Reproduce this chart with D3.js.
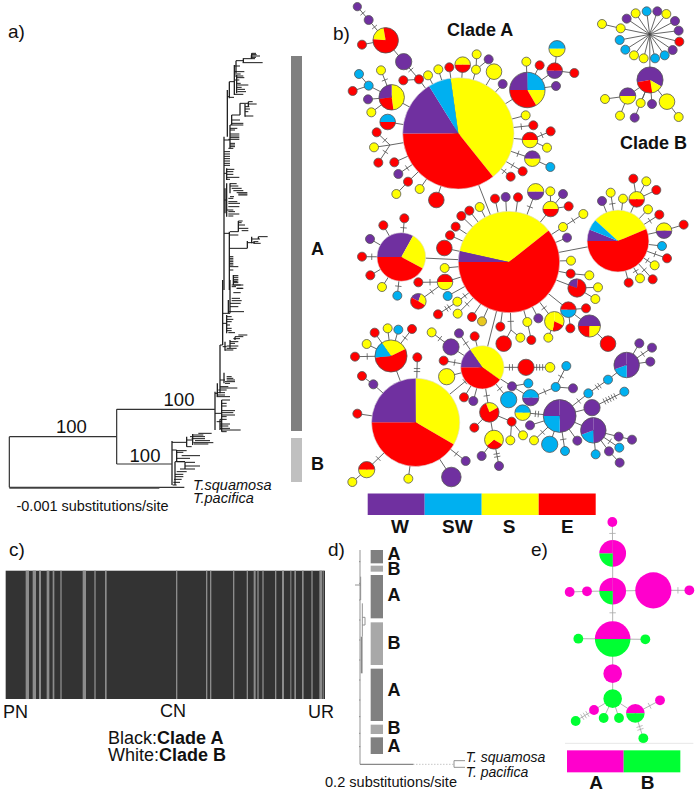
<!DOCTYPE html>
<html><head><meta charset="utf-8">
<script src="https://cdn.jsdelivr.net/npm/d3@7"></script>
<style>html,body{margin:0;background:#fff}svg{display:block}text{font-family:"Liberation Sans",Arial,sans-serif;fill:#111}</style>
</head><body><div id="c"></div>
<script>
// ---------- panel a tree, read in crop units ----------
const upperTips=[[40,755,768],[44,755,770],[48,752,780],[52,752,768],[56,730,765],[68,728,788],[78,703,720],[95,703,733],[102,705,722],[108,705,730],[113,710,733],[120,705,718],[130,710,722],[135,712,745],[142,710,725],[148,712,735],[155,712,738],[163,705,730],[172,690,702],
[185,745,758],[192,745,770],[200,735,748],[207,735,750],[215,735,745],[228,735,760],[225,695,720],[240,695,720],[250,695,730],[255,690,730],[265,690,712],[270,690,705],[282,690,718],[288,690,718],[293,690,718],[298,685,718],[310,690,705],[315,690,705],[320,690,705],[325,685,700],
[335,672,690],[342,672,690],[349,672,690],[356,672,690],[363,672,690],[370,672,690],[376,672,690],[388,680,703],[395,680,700],[403,680,700],[412,680,718],[418,680,690],
[431,690,710],[438,690,715],[445,695,725],[452,700,730],[458,710,742],[462,715,742],[465,715,742],[470,690,702],[475,685,700],[485,685,712],[490,685,720],[500,685,718],[510,680,700],[515,685,705],[522,685,718],[528,685,700],
[543,715,728],[548,715,725],[555,715,735],[565,715,745],[572,725,745],[575,690,715],[585,688,715],[625,688,742],[608,742,765],[590,775,803],[597,755,780],[605,760,775],[610,760,782],
[650,688,700],[655,688,700],[660,688,700],[665,688,700],[670,688,700],[675,688,700],[680,688,715],[690,688,700],[707,700,715],[712,700,715],[718,700,715],[725,700,712],[735,700,722],[745,710,730],[740,695,708]];
const upperSpines=[[755,40,56],[730,55,68],[708,62,100],[703,75,165],[710,105,160],[688,125,175],[682,150,290],[745,185,200],[735,192,230],[720,190,225],[695,225,255],[690,255,325],[680,385,420],[672,290,750],[690,430,460],[680,430,530],[675,445,520],[715,543,575],[688,575,750],[742,603,625],[755,590,610],[775,590,597],[700,705,735]];
const upperLinks=[[62,708,730],[125,688,703],[170,682,688],[190,720,745],[300,672,690],[400,672,680],[480,672,680],[580,672,688]];
const lowerTips=[[3,700,715],[8,700,715],[15,695,730],[25,710,728],[38,700,722],[55,695,720],[62,695,725],[70,690,722],[80,690,715],[95,685,732],[110,680,695],[118,680,700],[125,680,695],[135,680,690],[145,680,695],[152,680,695],[158,685,705],
[165,715,742],[170,705,730],[176,700,720],[185,690,715],[190,690,705],[198,680,715],[205,680,710],[210,675,700],[290,680,695],[295,680,700],[300,680,705],[305,675,705],[310,675,690],
[320,660,685],[324,660,712],[330,655,680],[338,650,675],[345,650,675],[350,650,690],[360,665,690],[370,665,680],[378,665,680],[392,665,705],[398,665,700],[405,665,705],[410,665,680],[418,660,680],[425,650,665],[432,660,690],[438,660,685],[445,660,690],[450,665,722],[455,665,680],
[460,595,635],[465,578,610],[470,570,615],[476,575,615],[482,585,630],[488,580,640],[492,582,625],[500,560,575],[512,530,560],[517,530,550],[527,545,600],[535,530,570],[545,530,555],[558,555,600],[547,555,585],[567,540,585],[575,530,560],[583,525,550],[590,525,550],[598,522,545],[607,520,540],[615,518,530]];
const lowerSpines=[[690,0,100],[685,60,100],[680,105,160],[668,0,195],[705,170,180],[690,180,205],[675,185,212],[660,195,340],[672,278,310],[652,310,350],[645,335,450],[665,360,455],[660,418,450],[516,483,615],[560,470,500],[578,462,495],[530,510,545],[525,545,615],[555,547,567]];
const lowerLinks=[[100,668,690],[130,668,680],[195,660,668],[200,668,680],[300,660,675],[340,645,652],[400,645,665],[487,516,560],[480,560,578],[510,516,530],[545,525,555]];
const rootLines=[[470,28,350],[388,350,645],[552,350,516],[622,28,553]];
const rootSpines=[[28,470,622],[350,388,552]];
const outgroupHeavy=[[624,28,478]];
const supportLabels=[["100",214,458],["100",537,378],["100",435,547]];

// ---------- panel b haplotype network: [id,x,y,r,mix,parent,ticks] in crop units ----------
const cladeA=[
["aM",355,400,167,"-8|S:41.5,E:35.7,W:16.2,SW:6.6","",0],
["",52,20,11,"W","a1",1],["a1",86,60,12,"W","a2",1],["a2",137,121,37,"275|S:75,E:285","",0],["",66,134,12,"E","a2",0],
["a3",191,185,23,"W","a2",0],["a4",237,238,12,"E","aM",0],["",190,241,12,"E","a4",0],["a3x",191,185,0,"W","a4",2],
["a5",155,292,37,"0|S:172,E:92,W:96","aM",0],["",123,211,12,"S","a5",1],["",57,222,12,"SW","a6",0],["a6",86,257,12,"SW","a5",0],["",38,273,12,"E","a6",0],["",84,298,12,"W","a5",0],["",94,337,12,"S","a5",0],
["",143,366,22,"-90|SW,E","aM",0],["aJ",150,435,0,"E","aM",0],["",110,397,12,"E","aJ",1],["",102,442,12,"S","aJ",0],["",115,488,12,"E","aJ",1],
["",163,487,12,"E","aM",0],["",175,522,12,"W","aM",1],["a7",204,545,12,"E","aM",0],["",169,582,12,"S","a7",0],["",239,567,12,"S","aM",0],["",289,600,22,"E","aM",0],
["",264,226,12,"S","aM",0],["",295,208,12,"S","aM",0],["",328,202,12,"E","aM",0],["",368,194,22,"-90|S,E","aM",0],["",410,163,12,"S","a8",0],["a8",408,209,12,"S","aM",0],["",446,178,12,"W","a8",0],["",462,215,22,"S","aM",0],["",488,252,12,"W","aM",0],
["a9",562,270,52,"0|SW:90,S:60,E:120,W:90","aM",0],["",559,185,12,"S","a9",0],["",599,196,12,"E","a9",0],["a10",644,212,22,"-90|E,W","a9",0],["",651,146,23,"-90|SW,S","a10",0],["",703,219,12,"E","a10",0],["",648,258,12,"W","a9",0],
["",557,346,12,"S","aM",0],["",580,376,12,"E","aM",1],["a11",570,420,22,"-90|E,S","aM",0],["",632,394,12,"E","a11",1],["",621,443,12,"S","a11",0],["a12",577,476,22,"-90|W,S","aM",1],["",631,501,12,"SW","a12",0],["",548,514,12,"E","aM",1],["",512,530,12,"E","aM",1]];
const cladeB=[
["bH",929,103,2,"K","",0],["",786,72,12,"S","b1",0],["b1",842,85,12,"S","bH",0],["",860,56,12,"W","bH",0],["",887,40,12,"S","bH",0],["",920,34,12,"SW","bH",0],["",952,34,12,"W","bH",0],["",979,42,12,"S","bH",0],["",1005,63,12,"W","bH",0],["",1016,92,12,"W","bH",0],["",1018,125,12,"E","bH",0],["",998,150,12,"W","bH",0],["",974,166,12,"SW","bH",0],["",945,175,12,"SW","bH",0],["",911,175,12,"S","bH",0],["",882,166,12,"S","bH",0],["",856,149,12,"SW","bH",0],["",839,120,12,"SW","bH",0],
["b2",930,240,38,"-100|W:220,S:50,E:90","bH",0],["b3",863,288,23,"-90|W,S","b2",0],["",795,297,12,"S","b3",0],["",840,347,12,"S","b3",0],["",884,353,12,"W","b2",0],["",902,309,12,"S","b2",0],["",936,312,12,"W","b2",0],["b4",981,305,22,"S","b2",0],["",1016,351,12,"S","b4",0]];
const cladeMid=[
["cM",507,276,152,"282.5|S:129,E:218.5,W:12.5","aM",0],
["",465,86,12,"E","cM",0],["",497,81,12,"W","cM",0],["",534,82,12,"E","cM",0],["",587,65,23,"-90|S,W","cM",1],["c1",632,117,22,"-90|S,E","cM",0],["",631,64,12,"S","c1",0],["",669,72,12,"W","c1",0],["",686,109,12,"E","c1",0],
["c2",669,171,12,"S","cM",0],["",730,132,12,"S","c2",1],["",681,203,12,"W","cM",0],["",693,272,12,"S","cM",0],["c3",692,311,12,"E","cM",0],["",748,316,12,"S","c3",0],["c4",711,354,26,"-70|W:75,E:285","cM",0],["",774,352,12,"S","c4",0],["",766,387,12,"S","c4",0],
["c5",685,419,22,"-90|E,SW","cM",0],["",738,415,12,"E","c5",0],["",691,475,12,"E","c5",0],["c6",748,468,32,"-90|W:180,S:90,E:90","c5",0],["",804,521,22,"E","c6",0],["c7",643,454,28,"0|S:115,E:75,S:170","cM",1],["",625,503,12,"S","c7",0],["",595,445,12,"W","cM",0],["c8",562,456,12,"S","cM",0],["",574,510,12,"E","c8",0],
["cJ",513,480,0,"E","cM",1],["",541,503,12,"S","cJ",0],["",491,521,22,"E","cJ",0],["",481,470,12,"E","cM",0],["",426,454,12,"M","cM",0],["",396,441,12,"E","cM",0],
["",353,431,12,"S","cM",1],["c9",352,395,12,"S","cM",1],["",294,433,12,"E","c9",2],["",323,378,12,"SW","cM",0],["c10",315,336,22,"-90|E,S","cM",0],["",235,337,12,"E","c10",1],["",314,294,12,"S","cM",0],["",313,234,22,"E","cM",0],["",330,196,12,"E","cM",0],["",347,170,12,"E","cM",0],["",364,138,12,"E","cM",0],["",388,122,12,"E","cM",0],["",419,111,12,"S","cM",0],
["lp",184,261,72,"-90|W:119,S:89,E:152","cM",0],["",130,166,12,"E","lp",0],["",193,145,12,"E","lp",1],["",90,207,12,"W","lp",0],["",66,260,12,"E","lp",1],["",91,316,12,"E","lp",0],["",126,351,12,"S","lp",0],["",172,377,12,"SW","lp",1],["",235,394,22,"-60|W:80,S:100,E:180","c10",1],
["rp",834,213,92,"-47.6|S:114.6,E:203,W:22,SW:20.4","cM",0],["r1",890,88,22,"-90|S,E","rp",0],["",880,26,12,"E","r1",0],["",919,34,12,"S","r1",0],["",949,60,12,"E","r1",0],["",812,68,12,"S","rp",1],["",849,86,12,"S","rp",0],["",786,93,12,"W","rp",0],["",924,118,12,"S","rp",0],["",958,134,12,"E","rp",1],["r2",972,182,22,"-90|S,W","rp",0],["",1031,164,12,"E","r2",0],["",966,228,12,"SW","rp",0],["",981,265,12,"E","rp",1],["",944,286,12,"S","rp",1],["",938,328,12,"E","rp",1],["",900,325,12,"S","rp",1],["",866,338,12,"E","rp",0]];
const cladeLow=[
["B",227,307,132,"0|S:120,E:150,W:90","tp",0],
["tp",153,108,47,"-35|S:99,E:201,SW:60","",0],["",104,38,12,"E","tp",0],["",143,25,12,"S","tp",0],["",175,29,12,"SW","tp",0],["",216,27,12,"E","tp",1],["",80,72,12,"S","tp",0],["",45,110,12,"E","tp",1],
["",232,112,12,"E","B",2],["",66,168,12,"E","l1",0],["l1",100,193,12,"W","B",0],["",52,281,12,"E","B",0],["l2",80,449,23,"-90|E,S","B",1],["",37,486,12,"S","l2",0],["",205,476,12,"S","B",0],["",334,471,28,"W","B",0],["",377,423,12,"W","B",1],
["mp",427,142,64,"-35|S:160,E:145,W:55","cM",0],["mB",427,142,0,"E","B",2],["m1",333,81,23,"W","mp",0],["",275,37,12,"S","m1",1],["",357,40,12,"W","mp",1],["",404,49,12,"E","mp",0],["",311,122,12,"E","mp",1],["",320,170,23,"S","mp",0],["",372,232,12,"E","mp",0],["",400,243,12,"W","mp",0],
["m2",558,142,23,"E","mp",2],["",630,142,13,"S","m2",3],["m3",448,277,28,"-20|S:80,E:280","mp",1],["",403,323,12,"E","m3",0],["m4",515,305,12,"E","m3",0],["",549,346,12,"S","m4",0],["",511,361,12,"S","m4",0],["m5",462,359,27,"0|S:120,E:110,S:130","m3",0],["",425,408,12,"W","m5",0],["",477,438,12,"W","m5",2],
["",506,239,23,"SW","mp",1],["m6",516,199,12,"W","mp",0],["",565,190,12,"SW","m6",0],["m7",572,233,23,"-90|SW,W","m6",0],["m8",647,201,12,"SW","m7",1],["",679,138,12,"SW","m8",1],["",699,205,12,"W","m8",0],
["pp",659,288,48,"0|W:180,SW:90,W:90","",0],["",548,278,22,"-90|SW,S","pp",2],["p1",745,220,12,"SW","pp",1],["p2",804,179,12,"SW","p1",2],["p3",860,135,37,"0|W:180,SW:70,W:110","p2",0],["",898,70,12,"W","p3",0],["",936,83,12,"W","p3",1],["",931,125,12,"W","p3",0],
["p4",756,263,23,"W","pp",0],["",853,215,12,"SW","p4",5],["p5",760,331,37,"0|W:180,SW:70,W:110","pp",0],["p6",836,350,12,"W","p5",0],["",876,359,12,"W","p6",0],["",838,383,12,"SW","p5",1],["p7",807,394,12,"W","p5",0],["",839,428,12,"W","p7",0],["",767,403,12,"SW","p5",0],
["",712,362,12,"W","pp",0],["",675,393,12,"SW","pp",1],["",629,373,23,"SW","pp",0],["",582,361,12,"S","pp",1],["",570,316,12,"W","pp",0]];
const regions=["W","SW","S","E"];
const regionColors=["#7030a0","#00b0f0","#ffff00","#ff0000"];
const regionLabelX=[180,352,507,682];

// ---------- panel c ----------
const stripeX=[77,98,117,140,158,181,248,283,315,528,618,630,699,740,761,772,787,825,846,871,883,906,934,958,968];
const stripeW=[10,10,6,8,5,4,10,4,5,4,4,4,4,4,6,4,4,4,6,3,5,5,4,8,3];
const plateauLabels=[["PN",3,718],["CN",160,717],["UR",308,718]];

// ---------- panel d ----------
const dSegments=[["A",60,100],["B",107,125],["A",135,265],["B",277,405],["A",416,573],["B",584,612],["A",622,672]];
const dLabelY=[90,136,212,356,498,611,665];
const dTicks=[95,160,210,270,330,390,450,510,560,610,650];

// ---------- panel e: [id,x,y,r,mix,parent,ticks] ----------
const eNodes=[
["",877,-24,14,"A","e1",1],["e1",878,70,41,"0|A:180,B:90,A:90","e2",0],["e2",878,183,41,"0|A:180,B:90,A:90","e5",1],["e3",1000,181,56,"A","e2",0],["",1108,181,14,"A","e3",1],["e4",801,184,14,"A","e2",0],["",749,186,14,"A","e4",0],
["e5",878,327,55,"-90|A,B","e6",0],["",775,326,14,"B","e5",0],["",976,328,14,"B","e5",0],["e6",878,431,28,"A","e7",0],["e7",878,506,28,"B","",0],
["e8",946,550,28,"-90|A,B","e7",0],["",1020,511,14,"A","e8",1],["",970,625,14,"B","e8",2],["",897,564,14,"B","e7",0],["",851,564,14,"B","e7",0],["e9",822,540,14,"A","e7",0],["",767,573,14,"B","e9",3]];
const cladeNames=["A","B"];
const cladeColors=["#ff00cc","#00ff33"];

// ---------- scaffolding ----------
const W=698,H=794;
const svg=d3.select("#c").append("svg").attr("width",W).attr("height",H).attr("viewBox",[0,0,W,H]);
const lin=(d,r)=>d3.scaleLinear().domain(d).range(r);
const label=(t,x,y,size,o={})=>svg.append("text").attr("x",x).attr("y",y).attr("font-size",size)
  .attr("font-weight",o.b?"bold":null).attr("font-style",o.i?"italic":null).attr("text-anchor",o.a||"start").text(t);

// ---------- a ----------
const tx=lin([0,960],[0,320]), ty1=lin([0,750],[40,290]), ty2=lin([0,720],[280,520]);
const gT=svg.append("g").attr("stroke","#1a1a1a").attr("fill","none").attr("stroke-width",1);
const hLines=(rows,ys,sw)=>gT.append("g").attr("stroke-width",sw).selectAll("line").data(rows).join("line")
  .attr("x1",d=>tx(d[1])).attr("x2",d=>tx(d[2])).attr("y1",d=>ys(d[0])).attr("y2",d=>ys(d[0]));
const vLines=(rows,ys,sw)=>gT.append("g").attr("stroke-width",sw).selectAll("line").data(rows).join("line")
  .attr("x1",d=>tx(d[0])).attr("x2",d=>tx(d[0])).attr("y1",d=>ys(d[1])).attr("y2",d=>ys(d[2]));
hLines(upperTips,ty1,1);hLines(upperLinks,ty1,1);vLines(upperSpines,ty1,1.25);
hLines(lowerTips,ty2,1);hLines(lowerLinks,ty2,1);vLines(lowerSpines,ty2,1.25);
hLines(rootLines,ty2,1.2).attr("stroke","#333");vLines(rootSpines,ty2,1.2).attr("stroke","#333");
hLines(outgroupHeavy,ty2,1.6).attr("stroke","#444");
supportLabels.forEach(d=>label(d[0],tx(d[1]),ty2(d[2]),18.5,{a:"middle"}));
svg.append("rect").attr("x",291).attr("y",56).attr("width",11).attr("height",375).attr("fill","#808080");
svg.append("rect").attr("x",291).attr("y",438).attr("width",11).attr("height",44).attr("fill","#c0c0c0");
label("a)",8,38,19);
label("A",311,255,18,{b:1});label("B",311,470,18,{b:1});
label("T.squamosa",193,490,14.5,{i:1});
label("T.pacifica",193,503,14.5,{i:1});
label("-0.001 substitutions/site",16.5,511,14.5).attr("textLength",152).attr("lengthAdjust","spacingAndGlyphs");

// ---------- b + e networks ----------
const codes=new Map([...regions.map((k,i)=>[k,regionColors[i]]),...cladeNames.map((k,i)=>[k,cladeColors[i]]),["K","#111"],["M","#e8c820"]]);
const nx=lin([0,1074],[340,698]), rr=lin([0,12,167],[0,4.5,55.7]);
const frames=[[cladeA,0],[cladeB,0],[cladeMid,170],[cladeLow,320]];
let nodes=[];
frames.forEach(([rows,off])=>{const ny=lin([0,660],[off,off+220]);
  rows.forEach(r=>nodes.push({id:r[0],x:nx(r[1]),y:ny(r[2]),r:rr(r[3]),mix:r[4],parent:r[5],ticks:r[6]}));});
const ex=lin([0,1134],[320,698]), ey=lin([0,792],[530,794]);
const eList=eNodes.map(r=>({id:r[0],x:ex(r[1]),y:ey(r[2]),r:rr(r[3])*.95,mix:r[4],parent:r[5],ticks:r[6]}));
const pieGen=d3.pie().sort(null).value(d=>d[1]);
const arcGen=d3.arc().innerRadius(0);
function parts(mix){
  if(!mix.includes("|")) return null;
  const [s,rest]=mix.split("|");const a0=+s*Math.PI/180;
  const rows=rest.split(",").map(p=>{const q=p.split(":");return [q[0],q.length>1?+q[1]:1];});
  return pieGen.startAngle(a0).endAngle(a0+2*Math.PI)(rows);
}
function drawNet(list,edgeColor,outline){
  const m=new Map(list.filter(d=>d.id).map(d=>[d.id,d]));
  const gE=svg.append("g"), gN=svg.append("g");
  const links=list.filter(d=>d.parent&&m.has(d.parent)).map(d=>({s:d,t:m.get(d.parent),n:d.ticks}));
  gE.selectAll("line").data(links).join("line").attr("x1",d=>d.s.x).attr("y1",d=>d.s.y).attr("x2",d=>d.t.x).attr("y2",d=>d.t.y)
    .attr("stroke",edgeColor).attr("stroke-width",.9);
  // hatch marks: placed on the visible stretch of each edge
  links.forEach(l=>{ if(!l.n) return;
    const dx=l.t.x-l.s.x,dy=l.t.y-l.s.y,len=Math.hypot(dx,dy)||1,ux=dx/len,uy=dy/len;
    const a=l.s.r,b=len-l.t.r,mid=(a+b)/2;
    for(let i=0;i<l.n;i++){const p=mid+(i-(l.n-1)/2)*3,cx=l.s.x+ux*p,cy=l.s.y+uy*p;
      gE.append("line").attr("x1",cx-uy*3.2).attr("y1",cy+ux*3.2).attr("x2",cx+uy*3.2).attr("y2",cy-ux*3.2).attr("stroke",edgeColor).attr("stroke-width",.8);}
  });
  const g=gN.selectAll("g").data(list.filter(d=>d.r>0)).join("g").attr("transform",d=>`translate(${d.x},${d.y})`);
  g.each(function(d){
    const sel=d3.select(this),p=parts(d.mix);
    if(p) sel.selectAll("path").data(p).join("path").attr("d",a=>arcGen.outerRadius(d.r)(a)).attr("fill",a=>codes.get(a.data[0]));
    else sel.append("circle").attr("r",d.r).attr("fill",codes.get(d.mix));
    if(outline) sel.append("circle").attr("r",d.r).attr("fill","none").attr("stroke",d.r>20?"#ddd":"#555").attr("stroke-width",d.r>20?.6:.8);
  });
}
drawNet(nodes,"#555",true);
drawNet(eList,"#aaa",false);
label("b)",333,40,19);
label("Clade A",447,36,18,{b:1});
label("Clade B",620,149,18,{b:1});
const legX=d3.scaleBand().domain(regions).range([367.7,595.7]);
svg.append("g").selectAll("rect").data(regions).join("rect").attr("x",d=>legX(d)).attr("y",493.5).attr("width",legX.bandwidth()).attr("height",21.5).attr("fill",(d,i)=>regionColors[i]);
regions.forEach((d,i)=>label(d,nx(regionLabelX[i]),533,19,{b:1,a:"middle"}));

// ---------- c ----------
const cx=lin([0,1020],[0,340]);
svg.append("rect").attr("x",cx(17)).attr("y",570.7).attr("width",cx(975)-cx(17)).attr("height",128.3).attr("fill","#333");
svg.append("g").selectAll("rect").data(stripeX).join("rect").attr("x",d=>cx(d)).attr("y",570.7).attr("height",128.3)
  .attr("width",(d,i)=>cx(stripeW[i])).attr("fill","#8c8c8c");
label("c)",9,556,19);
plateauLabels.forEach(d=>label(d[0],d[1],d[2],18));
svg.append("text").attr("x",108).attr("y",744).attr("font-size",18).html('Black:<tspan font-weight="bold">Clade A</tspan>');
svg.append("text").attr("x",108).attr("y",761).attr("font-size",18).html('White:<tspan font-weight="bold">Clade B</tspan>');

// ---------- d ----------
const dx=ex, dy=ey;
const gD=svg.append("g").attr("stroke","#888").attr("fill","none").attr("stroke-width",.9);
const seg=(a,b,c,d2,o={})=>gD.append("line").attr("x1",dx(a)).attr("y1",dy(b)).attr("x2",dx(c)).attr("y2",dy(d2)).attr("stroke-width",o.w||.9).attr("stroke-dasharray",o.dash||null);
seg(120,60,120,703);seg(120,703,280,703,{w:1.1});seg(280,703,400,703,{dash:"1 2",w:.7});
seg(402,692,402,712);seg(402,692,435,692);seg(402,712,435,712);
seg(127,220,127,320);seg(125,320,125,430,{w:1.8});seg(105,165,122,165);seg(122,140,122,210);seg(135,262,135,285);seg(127,262,135,262);seg(127,285,135,285);
dTicks.forEach(t=>seg(117,t,121,t));
svg.append("g").selectAll("rect").data(dSegments).join("rect").attr("x",dx(152)).attr("width",dx(189)-dx(152))
  .attr("y",d=>dy(d[1])).attr("height",d=>dy(d[2])-dy(d[1])).attr("fill",d=>d[0]==="A"?"#808080":"#a8a8a8");
dSegments.forEach((d,i)=>label(d[0],dx(222),dy(dLabelY[i]),18,{b:1,a:"middle"}));
label("d)",328,556,19);
label("T. squamosa",dx(437),dy(697),14,{i:1});
label("T. pacifica",dx(437),dy(742),14,{i:1});
label("0.2 substitutions/site",325,787,14).attr("textLength",132).attr("lengthAdjust","spacingAndGlyphs");

// ---------- e ----------
label("e)",531,556,19);
svg.append("line").attr("x1",ex(735)).attr("x2",ex(1120)).attr("y1",ey(640)).attr("y2",ey(640)).attr("stroke","#e0e0e0").attr("stroke-width",.8);
const eLeg=d3.scaleBand().domain(cladeNames).range([ex(741),ex(1081)]);
svg.append("g").selectAll("rect").data(cladeNames).join("rect").attr("x",d=>eLeg(d)).attr("y",ey(661)).attr("width",eLeg.bandwidth()).attr("height",ey(727)-ey(661)).attr("fill",(d,i)=>cladeColors[i]);
label("A",ex(828),ey(778),19,{b:1,a:"middle"});
label("B",ex(983),ey(778),19,{b:1,a:"middle"});
</script></body></html>
